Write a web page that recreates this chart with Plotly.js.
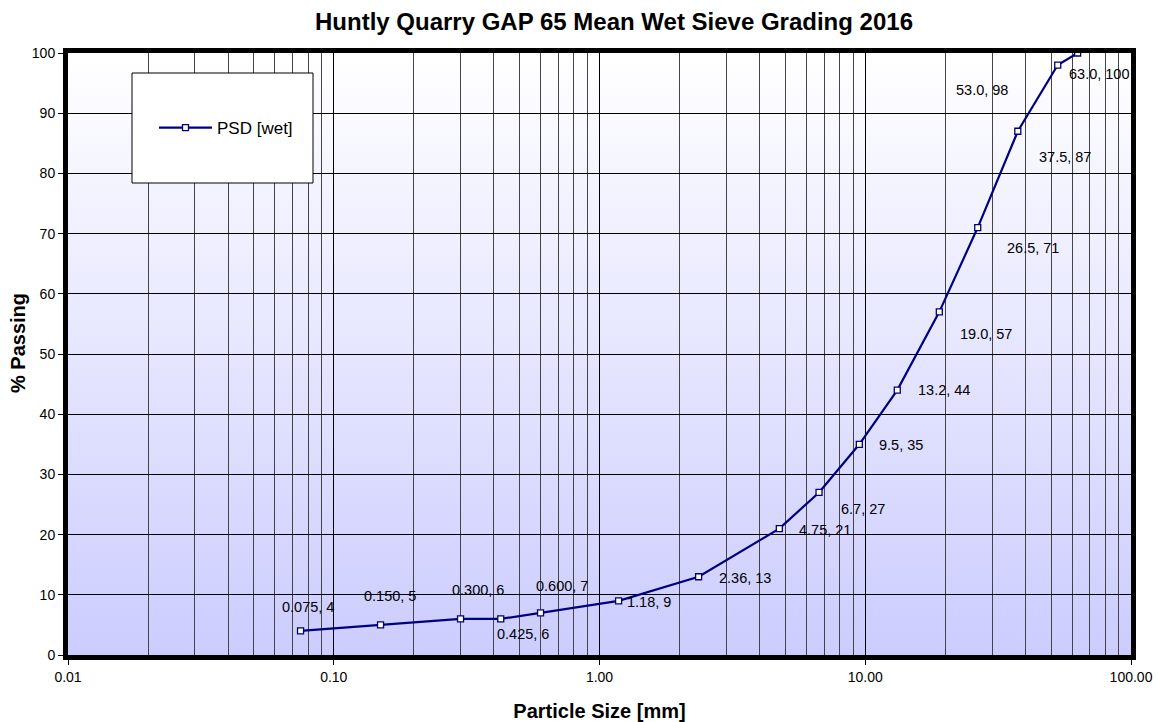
<!DOCTYPE html>
<html><head><meta charset="utf-8">
<script src="https://cdn.plot.ly/plotly-3.0.1.min.js"></script>
<style>html,body{margin:0;padding:0;background:#fff;}#chart{width:1158px;height:722px;}</style>
</head><body><div id="chart"></div>
<script>
// Data
const sieveSizes = [0.075, 0.150, 0.300, 0.425, 0.600, 1.18, 2.36, 4.75, 6.7, 9.5, 13.2, 19.0, 26.5, 37.5, 53.0, 63.0];
const percentPassing = [4, 5, 6, 6, 7, 9, 13, 21, 27, 35, 44, 57, 71, 87, 98, 100];
const pointLabels = ["0.075, 4","0.150, 5","0.300, 6","0.425, 6","0.600, 7","1.18, 9","2.36, 13","4.75, 21","6.7, 27","9.5, 35","13.2, 44","19.0, 57","26.5, 71","37.5, 87","53.0, 98","63.0, 100"];
const xTickVals = [0.01, 0.1, 1, 10, 100];
const xTickText = ["0.01", "0.10", "1.00", "10.00", "100.00"];
const yTickVals = [0,10,20,30,40,50,60,70,80,90,100];

// label offsets (pixels) for placement styling
const labelDX = [-21,-19,-11,-6,-7,6,18,18,20,18,19,19,27,19,-104,-11];
const labelDY = [24,29,29,-15,27,-1,-1,-1,-17,-1,0,-22,-20,-26,-25,-21];

const minorVals = [];
[0.01,0.1,1,10].forEach(d => { for (let k=2;k<=9;k++) minorVals.push(d*k); });

const gradSvg = '<svg xmlns="http://www.w3.org/2000/svg" width="10" height="100" preserveAspectRatio="none"><defs><linearGradient id="g" x1="0" y1="0" x2="0" y2="1"><stop offset="0" stop-color="#ffffff"/><stop offset="1" stop-color="#ccccff"/></linearGradient></defs><rect width="10" height="100" fill="url(#g)"/></svg>';
const gradUri = 'data:image/svg+xml;base64,' + btoa(gradSvg);

const FONT = 'Liberation Sans, Arial, sans-serif';

const trace = {
  x: sieveSizes, y: percentPassing, type: 'scatter', mode: 'lines+markers',
  name: 'PSD [wet]',
  line: {color: '#000080', width: 2.2},
  marker: {symbol: 'square', size: 6, color: '#ffffcc', line: {color: '#000080', width: 1.3}},
  hoverinfo: 'x+y'
};

const annotations = sieveSizes.map((x, i) => ({
  x: Math.log10(x), y: percentPassing[i], xref: 'x', yref: 'y', text: pointLabels[i],
  showarrow: false, xanchor: 'left', yanchor: 'middle', xshift: labelDX[i], yshift: labelDY[i],
  font: {family: FONT, size: 14.5, color: '#000'}
}));

const L = 68, R = 27, T = 53, B = 67, W = 1158, H = 722;
const pw = W - L - R, ph = H - T - B;
const px = v => (v - L) / pw, py = v => (H - B - v) / ph;

annotations.push({
  xref: 'paper', yref: 'paper', x: px(18), y: py(343), text: '% Passing', textangle: -90,
  showarrow: false, xanchor: 'center', yanchor: 'middle',
  font: {family: FONT, size: 20, color: '#000', weight: 'bold'}
});

const layout = {
  width: W, height: H,
  margin: {l: L, r: R, t: T, b: B},
  paper_bgcolor: '#ffffff', plot_bgcolor: 'rgba(0,0,0,0)',
  font: {family: FONT, color: '#000'},
  title: {text: 'Huntly Quarry GAP 65 Mean Wet Sieve Grading 2016', x: 614/W, xref: 'container', xanchor: 'center',
          y: 1 - 22/H, yref: 'container', yanchor: 'middle',
          font: {size: 24, weight: 'bold', family: FONT, color: '#000'}},
  xaxis: {
    type: 'log', range: [-2, 2], tickmode: 'array', tickvals: xTickVals, ticktext: xTickText,
    ticks: 'outside', ticklen: 5, tickcolor: '#000', tickfont: {size: 14},
    showgrid: true, gridcolor: '#000', gridwidth: 1,
    minor: {tickmode: 'array', tickvals: minorVals, showgrid: true, gridcolor: '#444', gridwidth: 1, ticks: ''},
    showline: true, linecolor: '#000', linewidth: 5, mirror: true, zeroline: false,
    title: {text: 'Particle Size [mm]', standoff: 22, font: {size: 20, weight: 'bold'}},
    fixedrange: true
  },
  yaxis: {
    range: [0, 100], tickmode: 'array', tickvals: yTickVals,
    ticks: 'outside', ticklen: 5, tickcolor: '#000', tickfont: {size: 14},
    showgrid: true, gridcolor: '#000', gridwidth: 1,
    showline: true, linecolor: '#000', linewidth: 5, mirror: true, zeroline: false,
    fixedrange: true
  },
  showlegend: true,
  legend: {x: px(154), y: py(128), xanchor: 'left', yanchor: 'middle', bgcolor: 'rgba(0,0,0,0)', borderwidth: 0,
           itemwidth: 53, font: {size: 17, family: FONT}},
  images: [{source: gradUri, xref: 'paper', yref: 'paper', x: 0, y: 1, sizex: 1, sizey: 1,
            sizing: 'stretch', xanchor: 'left', yanchor: 'top', layer: 'below'}],
  shapes: [{type: 'rect', xref: 'paper', yref: 'paper', x0: px(132), x1: px(313), y0: py(183), y1: py(73),
            fillcolor: '#ffffff', line: {color: '#000', width: 1}, layer: 'above'}],
  annotations: annotations
};

Plotly.newPlot('chart', [trace], layout, {displayModeBar: false, staticPlot: true});
</script></body></html>
